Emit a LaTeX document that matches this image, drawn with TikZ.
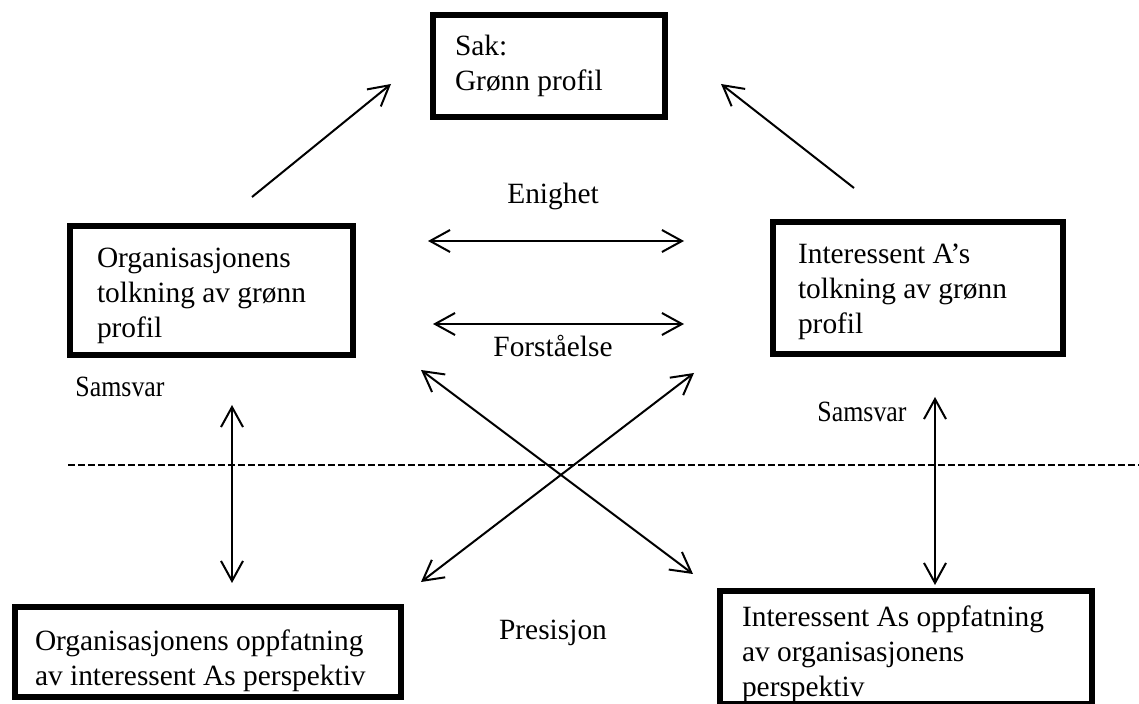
\documentclass[tikz,border=0pt]{standalone}
\usepackage{fontspec}
\setmainfont{Liberation Serif}
\usepackage{graphicx}
\usetikzlibrary{arrows.meta}

\newcommand{\bodyfont}{\fontsize{14.7}{17.5}\selectfont}
% text block of a frame: width, height, top padding, lines
\newcommand{\boxtext}[4]{\parbox[c][#2][t]{#1}{\raggedright\vspace*{#3}#4}}

\begin{document}
\begin{tikzpicture}[x=0.5pt, y=-0.5pt,
  every node/.style={font=\bodyfont},
  framebox/.style={draw, line width=3pt, inner ysep=0pt},
  label/.style={inner sep=0pt},
  link/.style={line width=1pt, {Straight Barb[length=10pt,width=11pt]}-{Straight Barb[length=10pt,width=11pt]}},
  onelink/.style={line width=1pt, -{Straight Barb[length=10pt,width=11pt]}},
  divider/.style={line width=0.7pt, dash pattern=on 3.5pt off 1.5pt}
]
\useasboundingbox (0,0) rectangle (1139,704);

% boxes
\node[framebox, inner xsep=11pt] (sak) at (549,66)
  {\boxtext{94pt}{51pt}{10pt}{Sak:\\Grønn profil}};
\node[framebox, inner xsep=13.5pt] (orgtolk) at (211.5,290.5)
  {\boxtext{114.5pt}{64.5pt}{11pt}{Organisasjonens\\tolkning av grønn\\profil}};
\node[framebox, inner xsep=12.5pt] (inttolk) at (918,288)
  {\boxtext{120pt}{66pt}{11pt}{Interessent A’s\\tolkning av grønn\\profil}};
\node[framebox, inner xsep=10pt] (orgoppf) at (208,652)
  {\boxtext{173pt}{45pt}{11.5pt}{Organisasjonens oppfatning\\av interessent As perspektiv}};
\node[framebox, inner xsep=11pt] (intoppf) at (906,647.5)
  {\boxtext{164pt}{56.5pt}{7.5pt}{Interessent As oppfatning\\av organisasjonens\\perspektiv}};

% labels
\node[label] (enighet) at (553,196) {Enighet};
\node[label] (forst) at (553,346) {Forståelse};
\node[label] (presisjon) at (553,633) {Presisjon};
\node[label] (samsvarL) at (120,387) {\scalebox{0.88}[1]{Samsvar}};
\node[label] (samsvarR) at (862,412) {\scalebox{0.88}[1]{Samsvar}};

% arrow end points
\coordinate (ulA) at (252,197);
\coordinate (ulB) at (391,84);
\coordinate (urA) at (854,188);
\coordinate (urB) at (721,84);
\coordinate (enA) at (428,241);
\coordinate (enB) at (684,241);
\coordinate (foA) at (433,324);
\coordinate (foB) at (684,324);
\coordinate (x1A) at (421,370);
\coordinate (x1B) at (693,574);
\coordinate (x2A) at (421,582);
\coordinate (x2B) at (694,373);
\coordinate (vlA) at (232,405);
\coordinate (vlB) at (232,583);
\coordinate (vrA) at (935,397);
\coordinate (vrB) at (935,585);
\coordinate (dashA) at (68,465);
\coordinate (dashB) at (1139,465);

% connectors
\draw[onelink] (ulA) -- (ulB);
\draw[onelink] (urA) -- (urB);
\draw[link] (enA) -- (enB);
\draw[link] (foA) -- (foB);
\draw[link] (x1A) -- (x1B);
\draw[link] (x2A) -- (x2B);
\draw[link] (vlA) -- (vlB);
\draw[link] (vrA) -- (vrB);
\draw[divider] (dashA) -- (dashB);
\end{tikzpicture}
\end{document}
